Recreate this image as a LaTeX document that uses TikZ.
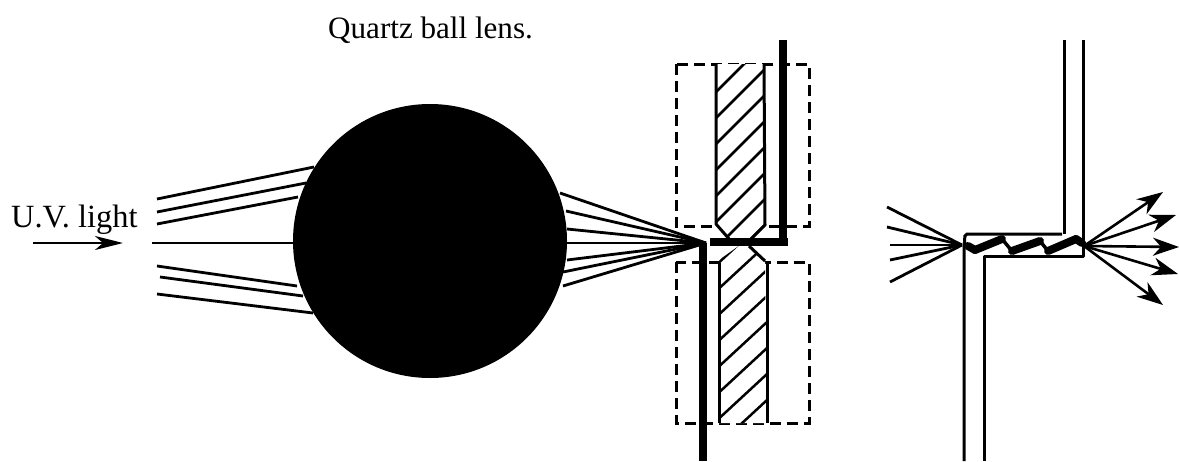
\documentclass[tikz,border=0pt]{standalone}
\usepackage{fontspec}
\setmainfont{Liberation Serif}
\usetikzlibrary{arrows.meta}
\tikzset{
  x=1pt,y=-1pt,
  ray/.style={line width=2.8pt},
  heavy/.style={line width=8.5pt,line cap=butt},
  dashbox/.style={line width=3pt,dash pattern=on 11pt off 6pt},
  wall/.style={line width=3pt},
  hatch/.style={line width=2.5pt},
  bigarrow/.style={line width=2.6pt,-{Stealth[length=26pt,width=18pt,inset=8pt]}},
  label/.style={inner sep=0pt,anchor=base west},
  ball/.style={circle,fill=black,minimum size=274pt,inner sep=0pt},
  zigup/.style={line width=8pt,line cap=round},
  zigdown/.style={line width=3.5pt,line cap=round}
}
\begin{document}
\begin{tikzpicture}
\useasboundingbox (0,0) rectangle (1179,461);
% labels
\node[label,font=\fontsize{31.1}{36}\selectfont] (title) at (328,38) {Quartz ball lens.};
\node[label,font=\fontsize{32.4}{36}\selectfont] (uv) at (11,227) {U.V. light};
\coordinate (uvs) at (33,243); \coordinate (uve) at (123,243);
\draw[line width=2.6pt,-{Stealth[length=28pt,width=14pt,inset=8pt]}] (uvs) -- (uve);
% lens
\node[ball] (lens) at (430,241) {};
% incoming rays
\foreach \n/\a/\b/\c/\d in {1/157/199/314/167,2/157/212/306/183,3/157/224/298/197,4/152/243/295/243,5/157/266/297/286,6/160/277/303/296,7/157/294/313/313}{
  \coordinate (i\n) at (\a,\b); \coordinate (j\n) at (\c,\d);
  \draw[ray] (i\n) -- (j\n);
}
% focused rays
\coordinate (focus) at (706,243);
\foreach \n/\a/\b in {1/560/193,2/566/211,3/567/229,4/567/243,5/567/260,6/563/272,7/563/286}{
  \coordinate (o\n) at (\a,\b);
  \draw[ray] (o\n) -- (focus);
}
% dashed boxes
\coordinate (ta) at (676,64); \coordinate (tb) at (809,226);
\coordinate (ba) at (676,262); \coordinate (bb) at (809,423);
\draw[dashbox] (ta) rectangle (tb);
\draw[dashbox] (ba) rectangle (bb);
% upper hatched electrode
\path[fill=white] (716,64) -- (764,64) -- (765,225) -- (750,240) -- (730,240) -- (716,224) -- cycle;
\begin{scope}
\clip (716,64) -- (764,64) -- (765,225) -- (750,240) -- (730,240) -- (716,224) -- cycle;
\foreach \k in {0,...,7}{
  \coordinate (p) at (700,{108+26*\k});
  \draw[hatch] (p) -- ++(80,-80);
}
\end{scope}
\draw[wall,line join=bevel] (716,64) -- (716,224) -- (730,240);
\draw[wall,line join=bevel] (764,64) -- (765,225) -- (750,240);
% lower hatched electrode
\path[fill=white] (719,260) -- (740,245) -- (749,245) -- (765,262) -- (767,423) -- (719,423) -- cycle;
\begin{scope}
\clip (719,260) -- (740,245) -- (749,245) -- (765,262) -- (767,423) -- (719,423) -- cycle;
\foreach \k in {0,...,7}{
  \coordinate (q) at (700,{280+26*\k});
  \draw[hatch] (q) -- ++(80,-74);
}
\end{scope}
\draw[wall,line join=bevel] (719,263) -- (719,423);
\draw[wall,line join=bevel] (767,423) -- (767,263);
\draw[wall] (749,246) -- (765,261);
% heavy conductors
\coordinate (ua) at (783,40); \coordinate (ub) at (783,242); \coordinate (uc) at (710,242); \coordinate (ue) at (788,242);
\coordinate (la) at (703,243); \coordinate (lb) at (703,461);
\draw[heavy] (ua) -- (ub);
\draw[heavy] (uc) -- (ue);
\draw[heavy] (la) -- (lb);
% right-hand enlarged figure
\coordinate (w1) at (1064,40); \coordinate (w2) at (1064,234); \coordinate (w3) at (965,234);
\coordinate (w4) at (964,461); \coordinate (w5) at (984,461); \coordinate (w6) at (984,256);
\coordinate (w7) at (1083,256); \coordinate (w8) at (1083,40);
\draw[wall] (w2) -- (w1);
\draw[wall,rounded corners=2pt] (1062,234) -- (w3) -- (964,250) -- (w4);
\draw[wall,line join=round] (w5) -- (w6) -- (w7) -- (w8);
% zigzag
\coordinate (z0) at (968,246); \coordinate (z1) at (975,250); \coordinate (z2) at (1002,239);
\coordinate (z3) at (1012,251); \coordinate (z4) at (1040,241); \coordinate (z5) at (1048,251);
\coordinate (z6) at (1076,239); \coordinate (z7) at (1082,243);
\draw[zigup] (z0) -- (z1);
\draw[zigup] (z1) -- (z2);
\draw[zigdown] (z2) -- (z3);
\draw[zigup] (z3) -- (z4);
\draw[zigdown] (z4) -- (z5);
\draw[zigup] (z5) -- (z6);
\draw[zigup] (z6) -- (z7);
% converging rays
\coordinate (fr) at (962,245);
\foreach \n/\a/\b in {1/887/207,2/887/227,3/890/245,4/890/260,5/890/282}{
  \coordinate (c\n) at (\a,\b);
  \draw[ray] (c\n) -- (fr);
}
% diverging rays
\coordinate (fo) at (1084,246);
\foreach \n/\a/\b in {1/1163/192,2/1176/215,3/1179/247,4/1178/274,5/1163/305}{
  \coordinate (d\n) at (\a,\b);
  \draw[bigarrow] (fo) -- (d\n);
}
\end{tikzpicture}
\end{document}
